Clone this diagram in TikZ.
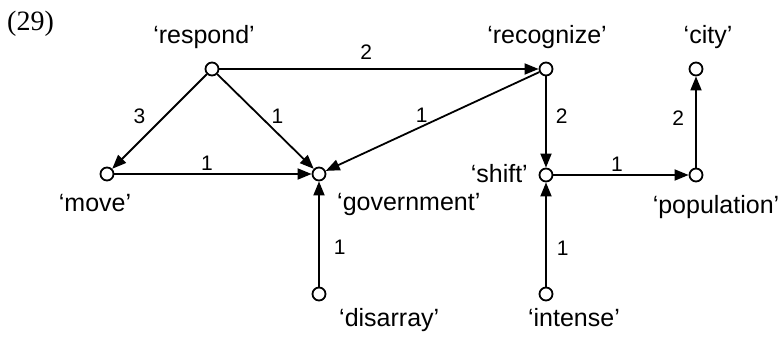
\documentclass[tikz,border=0pt]{standalone}
\usepackage{fontspec}
\setmainfont{Liberation Sans}
\newfontfamily\exfont{Liberation Serif}
\usetikzlibrary{arrows.meta}

\begin{document}
\begin{tikzpicture}[x=1pt, y=-1pt, >={Triangle[length=14pt,width=11pt]},
  vertex/.style={circle, draw, line width=1.8pt, fill=white, minimum size=13pt, inner sep=0pt},
  word/.style={font=\fontsize{25}{30}\selectfont, inner sep=0pt, anchor=base},
  weight/.style={font=\fontsize{21}{25}\selectfont, inner sep=3pt},
  arc/.style={->, line width=1.8pt}]
  \useasboundingbox (0,0) rectangle (782,337);
  % example number
  \node[font=\exfont\fontsize{28}{32}\selectfont, anchor=north west, inner sep=0pt] (exno) at (7,11) {(29)};
  % vertices
  \node[vertex] (respond) at (212,69) {};
  \node[vertex] (recognize) at (546,69) {};
  \node[vertex] (city) at (696,69) {};
  \node[vertex] (move) at (107,174) {};
  \node[vertex] (government) at (319,174) {};
  \node[vertex] (shift) at (546,175) {};
  \node[vertex] (population) at (696,175) {};
  \node[vertex] (disarray) at (319,294) {};
  \node[vertex] (intense) at (546,294) {};
  % words
  \node[word] (respondW) at (204,44) {‘respond’};
  \node[word] (recognizeW) at (547,44) {‘recognize’};
  \node[word] (cityW) at (708,44) {‘city’};
  \node[word] (moveW) at (95,211) {‘move’};
  \node[word, anchor=base west] (governmentW) at (337,210) {‘government’};
  \node[word, anchor=base east] (shiftW) at (528,182) {‘shift’};
  \node[word] (populationW) at (716,213) {‘population’};
  \node[word, anchor=base west] (disarrayW) at (339,326) {‘disarray’};
  \node[word] (intenseW) at (574,326) {‘intense’};
  % arcs
  \draw[arc] (respond) -- node[weight, pos=.46, above=6pt] {2} (recognize);
  \draw[arc] (respond) -- node[weight, pos=.44, left=16pt] {3} (move);
  \draw[arc] (respond) -- node[weight, pos=.44, right=8pt] {1} (government);
  \draw[arc] (move) -- node[weight, pos=.47, above] {1} (government);
  \draw[arc] (recognize) -- node[weight, pos=.55, above] {1} (government);
  \draw[arc] (disarray) -- node[weight, pos=.37, right=11pt] {1} (government);
  \draw[arc] (recognize) -- node[weight, pos=.44, right=6pt] {2} (shift);
  \draw[arc] (intense) -- node[weight, pos=.37, right=7pt] {1} (shift);
  \draw[arc] (shift) -- node[weight, pos=.47, above] {1} (population);
  \draw[arc] (population) -- node[weight, pos=.54, left=8pt] {2} (city);
\end{tikzpicture}
\end{document}
